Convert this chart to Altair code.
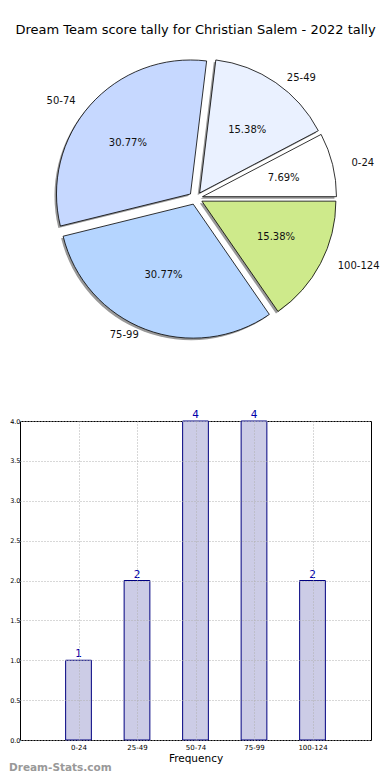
import json
import altair as alt
import pandas as pd

TITLE = "Dream Team score tally for Christian Salem - 2022 tally"
categories = ["0-24", "25-49", "50-74", "75-99", "100-124"]
counts = [1, 2, 4, 4, 2]
pie_colors = ["#ffffff", "#eaf1ff", "#c6d8ff", "#b5d5ff", "#ceea8b"]
y_ticks = [0.0, 0.5, 1.0, 1.5, 2.0, 2.5, 3.0, 3.5, 4.0]
x_title = "Frequency"
watermark = "Dream-Stats.com"

df = pd.DataFrame({"cat": categories, "count": counts, "idx": list(range(len(categories)))})

FONT = "DejaVu Sans"
W = 351
H1 = 380
H2 = 319
ORIGIN = 19
CX, CY = 194.7 - ORIGIN, 190.2
R = 134
RX, RY = 139.5, 127
EXP = 0.05
SHX, SHY = -2.0, 2.0

color_scale = alt.Scale(domain=categories, range=pie_colors)

base = (
    alt.Chart(df)
    .transform_joinaggregate(total="sum(count)")
    .transform_window(cum="sum(count)", sort=[alt.SortField("idx")], frame=[None, 0])
    .transform_calculate(
        a0="2*PI*(datum.cum - datum.count)/datum.total",
        a1="2*PI*datum.cum/datum.total",
    )
    .transform_calculate(
        mid="(datum.a0 + datum.a1)/2",
        t0="2.5*PI - datum.a1",
        t1="2.5*PI - datum.a0",
        pct="format(100*datum.count/datum.total, '.2f') + '%'",
    )
    .transform_calculate(
        cx=f"{CX} + {EXP*RX}*cos(datum.mid)",
        cy=f"{CY} - {EXP*RY}*sin(datum.mid)",
    )
    .transform_calculate(
        sx=f"datum.cx + ({SHX})",
        sy=f"datum.cy + ({SHY})",
        px=f"datum.cx + {0.6*RX}*cos(datum.mid)",
        py=f"datum.cy - {0.6*RY}*sin(datum.mid)",
        lx=f"datum.cx + {1.1*RX}*cos(datum.mid)",
        ly=f"datum.cy - {1.1*RY}*sin(datum.mid)",
        side="cos(datum.mid) >= 0 ? 'r' : 'l'",
    )
)

shadow = base.mark_arc(radius=R, fill="#999999").encode(
    x=alt.X("sx:Q", scale=None, axis=None),
    y=alt.Y("sy:Q", scale=None, axis=None),
    theta=alt.Theta("t0:Q", scale=None),
    theta2=alt.Theta2("t1:Q"),
)
wedges = base.mark_arc(radius=R, stroke="black", strokeWidth=0.8).encode(
    x=alt.X("cx:Q", scale=None, axis=None),
    y=alt.Y("cy:Q", scale=None, axis=None),
    theta=alt.Theta("t0:Q", scale=None),
    theta2=alt.Theta2("t1:Q"),
    color=alt.Color("cat:N", scale=color_scale, legend=None),
)
pct = base.mark_text(fontSize=10, font=FONT, color="#111111", baseline="middle").encode(
    x=alt.X("px:Q", scale=None, axis=None),
    y=alt.Y("py:Q", scale=None, axis=None),
    text="pct:N",
)
lab_r = base.transform_filter("datum.side == 'r'").mark_text(
    fontSize=10, font=FONT, color="#111111", align="left", baseline="middle"
).encode(
    x=alt.X("lx:Q", scale=None, axis=None),
    y=alt.Y("ly:Q", scale=None, axis=None),
    text="cat:N",
)
lab_l = base.transform_filter("datum.side == 'l'").mark_text(
    fontSize=10, font=FONT, color="#111111", align="right", baseline="middle"
).encode(
    x=alt.X("lx:Q", scale=None, axis=None),
    y=alt.Y("ly:Q", scale=None, axis=None),
    text="cat:N",
)
title = alt.Chart(pd.DataFrame({"t": [TITLE]})).mark_text(
    fontSize=13, font=FONT, color="black", baseline="middle"
).encode(x=alt.value(194.5 - ORIGIN), y=alt.value(22), text="t:N")

pie = alt.layer(shadow, wedges, pct, lab_r, lab_l, title).properties(
    width=W, height=H1, view=alt.ViewBackground(stroke=None)
)

label_expr = json.dumps(categories) + "[datum.value]"

x_scale = alt.Scale(domain=[-1, 5], nice=False, zero=False)
y_scale = alt.Scale(domain=[0, 4], nice=False)
x_axis = alt.Axis(
    values=[0, 1, 2, 3, 4], labelExpr=label_expr, title=x_title,
    grid=True, gridDash=[1, 2], gridColor="#b0b0b0", ticks=False, domain=False,
    labelFont=FONT, labelFontSize=7, labelColor="black", labelPadding=3,
    titleFont=FONT, titleFontSize=10.5, titleFontWeight="normal", titleColor="black",
    titlePadding=3, zindex=1, labelOverlap=False,
)
y_axis = alt.Axis(
    values=y_ticks, format=".1f", title=None, grid=True, gridDash=[1, 2],
    gridColor="#b0b0b0", ticks=False, domain=False, labelOverlap=False,
    labelFont=FONT, labelFontSize=6.5, labelColor="black", labelPadding=0, zindex=1,
)

bars = alt.Chart(df).transform_calculate(
    x0="datum.idx - 0.22", x1="datum.idx + 0.22"
).mark_bar(fill="#ccccE6", stroke="#000080", strokeWidth=1).encode(
    x=alt.X("x0:Q", scale=x_scale, axis=x_axis),
    x2="x1:Q",
    y=alt.Y("count:Q", scale=y_scale, axis=y_axis),
    y2=alt.datum(0),
)
vals = alt.Chart(df).mark_text(
    color="#0000aa", fontSize=10.5, font=FONT, baseline="bottom", dy=-1
).encode(
    x=alt.X("idx:Q", scale=x_scale, axis=x_axis),
    y=alt.Y("count:Q", scale=y_scale, axis=y_axis),
    text="count:Q",
)
wm = alt.Chart(pd.DataFrame({"w": [watermark]})).mark_text(
    align="left", baseline="alphabetic", fontWeight="bold", color="#999999",
    fontSize=10.5, font=FONT,
).encode(x=alt.value(-11), y=alt.value(350), text="w:N")

bar = alt.layer(bars, vals, wm).properties(
    width=W, height=H2, view=alt.ViewBackground(stroke="black", strokeWidth=1)
)

chart = alt.vconcat(pie, bar, spacing=33, bounds="flush").properties(
    padding=0
).configure(font=FONT)

chart.save("out.html", embed_options={"renderer": "svg", "actions": False})
